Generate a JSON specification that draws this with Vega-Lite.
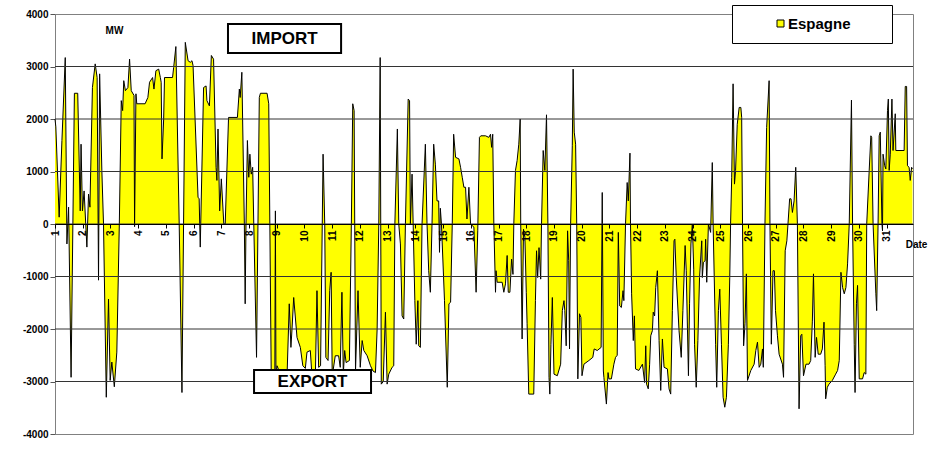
{
"$schema": "https://vega.github.io/schema/vega-lite/v6.json",
"width": 858, "height": 420,
"autosize": {"type": "none"},
"padding": {"left": 55, "top": 14, "right": 25, "bottom": 17},
"background": "white",
"config": {"view": {"stroke": "#808080", "strokeWidth": 1}, "font": "Liberation Sans", "axis": {"labelOverlap": false}},
"datasets": {
"flow": [
{"day":1.00,"mw":2000},{"day":1.03,"mw":1850},{"day":1.15,"mw":130},{"day":1.25,"mw":1590},{"day":1.37,"mw":3170},{"day":1.43,"mw":-380},{"day":1.49,"mw":320},{"day":1.58,"mw":-2920},{"day":1.70,"mw":2490},{"day":1.82,"mw":2490},{"day":1.91,"mw":250},{"day":1.94,"mw":1520},{"day":1.99,"mw":250},{"day":2.05,"mw":630},{"day":2.15,"mw":-440},{"day":2.21,"mw":570},{"day":2.26,"mw":320},{"day":2.35,"mw":2600},{"day":2.45,"mw":3050},{"day":2.52,"mw":2790},{"day":2.57,"mw":-1070},{"day":2.61,"mw":2860},{"day":2.69,"mw":1020},{"day":2.75,"mw":0},{"day":2.85,"mw":-3300},{"day":2.93,"mw":-1430},{"day":2.99,"mw":-2980},{"day":3.05,"mw":-2630},{"day":3.14,"mw":-3100},{"day":3.23,"mw":-2440},{"day":3.32,"mw":0},{"day":3.39,"mw":2350},{"day":3.44,"mw":2160},{"day":3.48,"mw":2730},{"day":3.54,"mw":2540},{"day":3.63,"mw":2600},{"day":3.69,"mw":3140},{"day":3.75,"mw":2540},{"day":3.85,"mw":2450},{"day":3.87,"mw":-50},{"day":3.92,"mw":2480},{"day":3.95,"mw":2290},{"day":4.25,"mw":2290},{"day":4.35,"mw":2410},{"day":4.41,"mw":2700},{"day":4.52,"mw":2790},{"day":4.57,"mw":2570},{"day":4.64,"mw":2920},{"day":4.74,"mw":2950},{"day":4.80,"mw":2790},{"day":4.83,"mw":2700},{"day":4.86,"mw":1240},{"day":4.92,"mw":2000},{"day":4.95,"mw":2790},{"day":5.24,"mw":2790},{"day":5.28,"mw":2980},{"day":5.36,"mw":3380},{"day":5.48,"mw":0},{"day":5.58,"mw":-3210},{"day":5.70,"mw":3460},{"day":5.80,"mw":3110},{"day":5.88,"mw":3080},{"day":5.94,"mw":3110},{"day":5.98,"mw":3020},{"day":6.16,"mw":510},{"day":6.20,"mw":480},{"day":6.24,"mw":-440},{"day":6.36,"mw":2600},{"day":6.45,"mw":2630},{"day":6.48,"mw":2350},{"day":6.57,"mw":2250},{"day":6.64,"mw":3210},{"day":6.72,"mw":3140},{"day":6.81,"mw":1080},{"day":6.84,"mw":830},{"day":6.88,"mw":1810},{"day":6.94,"mw":250},{"day":7.00,"mw":860},{"day":7.09,"mw":0},{"day":7.14,"mw":0},{"day":7.26,"mw":2030},{"day":7.58,"mw":2030},{"day":7.65,"mw":2570},{"day":7.68,"mw":2410},{"day":7.74,"mw":2890},{"day":7.83,"mw":0},{"day":7.86,"mw":-1520},{"day":7.89,"mw":0},{"day":7.94,"mw":1590},{"day":7.99,"mw":890},{"day":8.03,"mw":1330},{"day":8.08,"mw":950},{"day":8.13,"mw":1080},{"day":8.17,"mw":0},{"day":8.27,"mw":-2540},{"day":8.37,"mw":2410},{"day":8.41,"mw":2490},{"day":8.65,"mw":2490},{"day":8.71,"mw":2290},{"day":8.80,"mw":-2900},{"day":8.85,"mw":-3000},{"day":8.93,"mw":-2900},{"day":8.95,"mw":250},{"day":8.97,"mw":-2900},{"day":9.01,"mw":-2700},{"day":9.07,"mw":-2780},{"day":9.25,"mw":-2950},{"day":9.37,"mw":-2900},{"day":9.45,"mw":-1520},{"day":9.51,"mw":-2350},{"day":9.55,"mw":-2000},{"day":9.61,"mw":-1400},{"day":9.73,"mw":-2160},{"day":9.85,"mw":-2350},{"day":9.94,"mw":-2700},{"day":10.03,"mw":-2750},{"day":10.09,"mw":-2440},{"day":10.21,"mw":-2410},{"day":10.27,"mw":-2900},{"day":10.39,"mw":-2950},{"day":10.45,"mw":-1270},{"day":10.51,"mw":-2730},{"day":10.58,"mw":-2700},{"day":10.67,"mw":1330},{"day":10.73,"mw":0},{"day":10.77,"mw":-2540},{"day":10.85,"mw":-2600},{"day":10.91,"mw":-1270},{"day":10.96,"mw":-920},{"day":11.00,"mw":-2900},{"day":11.11,"mw":-2510},{"day":11.23,"mw":-2510},{"day":11.29,"mw":-2730},{"day":11.35,"mw":-1300},{"day":11.40,"mw":-2850},{"day":11.45,"mw":-2410},{"day":11.50,"mw":-2640},{"day":11.62,"mw":-2600},{"day":11.69,"mw":0},{"day":11.74,"mw":2290},{"day":11.79,"mw":2160},{"day":11.84,"mw":-2800},{"day":11.93,"mw":-1270},{"day":12.01,"mw":-2730},{"day":12.08,"mw":-2220},{"day":12.14,"mw":-2410},{"day":12.26,"mw":-2510},{"day":12.38,"mw":-2700},{"day":12.47,"mw":-2800},{"day":12.56,"mw":-2830},{"day":12.62,"mw":-2000},{"day":12.68,"mw":0},{"day":12.73,"mw":3170},{"day":12.77,"mw":-3050},{"day":12.84,"mw":-3000},{"day":12.92,"mw":-1680},{"day":12.98,"mw":-3050},{"day":13.04,"mw":-2860},{"day":13.16,"mw":-2730},{"day":13.22,"mw":-2700},{"day":13.26,"mw":0},{"day":13.35,"mw":1810},{"day":13.40,"mw":0},{"day":13.46,"mw":-380},{"day":13.52,"mw":-1750},{"day":13.58,"mw":-1810},{"day":13.64,"mw":0},{"day":13.74,"mw":2380},{"day":13.79,"mw":2350},{"day":13.82,"mw":0},{"day":13.88,"mw":950},{"day":13.92,"mw":0},{"day":13.98,"mw":-1460},{"day":14.03,"mw":-2290},{"day":14.09,"mw":-1460},{"day":14.12,"mw":-2320},{"day":14.18,"mw":-2350},{"day":14.24,"mw":0},{"day":14.36,"mw":1520},{"day":14.42,"mw":0},{"day":14.48,"mw":-890},{"day":14.54,"mw":-1300},{"day":14.60,"mw":0},{"day":14.66,"mw":1520},{"day":14.72,"mw":1140},{"day":14.78,"mw":440},{"day":14.84,"mw":440},{"day":14.87,"mw":-540},{"day":14.90,"mw":300},{"day":14.94,"mw":0},{"day":15.05,"mw":-1460},{"day":15.15,"mw":-3110},{"day":15.21,"mw":-1520},{"day":15.27,"mw":-1490},{"day":15.33,"mw":0},{"day":15.38,"mw":1710},{"day":15.45,"mw":1270},{"day":15.57,"mw":1240},{"day":15.63,"mw":1080},{"day":15.69,"mw":890},{"day":15.75,"mw":700},{"day":15.81,"mw":700},{"day":15.86,"mw":95},{"day":15.93,"mw":700},{"day":15.99,"mw":0},{"day":16.11,"mw":-60},{"day":16.19,"mw":-1300},{"day":16.25,"mw":-130},{"day":16.31,"mw":1650},{"day":16.36,"mw":1680},{"day":16.53,"mw":1680},{"day":16.65,"mw":1650},{"day":16.71,"mw":1710},{"day":16.75,"mw":1460},{"day":16.79,"mw":1710},{"day":16.83,"mw":0},{"day":16.89,"mw":-1300},{"day":16.91,"mw":-890},{"day":16.95,"mw":-1110},{"day":17.13,"mw":-1110},{"day":17.19,"mw":-1300},{"day":17.25,"mw":-1140},{"day":17.31,"mw":-600},{"day":17.35,"mw":-1300},{"day":17.41,"mw":-1300},{"day":17.47,"mw":-670},{"day":17.52,"mw":-960},{"day":17.55,"mw":0},{"day":17.61,"mw":1020},{"day":17.67,"mw":1210},{"day":17.73,"mw":1520},{"day":17.78,"mw":2000},{"day":17.80,"mw":0},{"day":17.85,"mw":-2190},{"day":17.90,"mw":-100},{"day":17.95,"mw":-250},{"day":18.00,"mw":-1300},{"day":18.03,"mw":-1900},{"day":18.09,"mw":-3240},{"day":18.27,"mw":-3240},{"day":18.33,"mw":-1460},{"day":18.37,"mw":-510},{"day":18.41,"mw":-1020},{"day":18.46,"mw":-450},{"day":18.52,"mw":-1050},{"day":18.55,"mw":0},{"day":18.61,"mw":1400},{"day":18.67,"mw":1020},{"day":18.73,"mw":2080},{"day":18.78,"mw":0},{"day":18.82,"mw":-2920},{"day":18.85,"mw":-3240},{"day":18.89,"mw":-2290},{"day":18.94,"mw":-1400},{"day":19.00,"mw":-2860},{"day":19.12,"mw":-2890},{"day":19.24,"mw":-2670},{"day":19.30,"mw":-1650},{"day":19.36,"mw":-1460},{"day":19.39,"mw":-1650},{"day":19.44,"mw":-2320},{"day":19.49,"mw":-130},{"day":19.53,"mw":-700},{"day":19.56,"mw":-2380},{"day":19.60,"mw":0},{"day":19.66,"mw":1490},{"day":19.69,"mw":2950},{"day":19.73,"mw":1750},{"day":19.78,"mw":1520},{"day":19.82,"mw":0},{"day":19.86,"mw":-2950},{"day":19.92,"mw":-1710},{"day":19.97,"mw":-1780},{"day":20.01,"mw":-2890},{"day":20.08,"mw":-2670},{"day":20.26,"mw":-2600},{"day":20.40,"mw":-2540},{"day":20.45,"mw":-2380},{"day":20.56,"mw":-2410},{"day":20.70,"mw":-2350},{"day":20.74,"mw":600},{"day":20.78,"mw":-2800},{"day":20.80,"mw":-2920},{"day":20.89,"mw":-3430},{"day":20.95,"mw":-2830},{"day":20.98,"mw":-2950},{"day":21.07,"mw":-2950},{"day":21.16,"mw":-2670},{"day":21.22,"mw":-2540},{"day":21.28,"mw":-2500},{"day":21.32,"mw":-160},{"day":21.37,"mw":-1560},{"day":21.43,"mw":-1590},{"day":21.49,"mw":-1270},{"day":21.52,"mw":-1460},{"day":21.58,"mw":0},{"day":21.64,"mw":790},{"day":21.68,"mw":440},{"day":21.74,"mw":1350},{"day":21.76,"mw":0},{"day":21.80,"mw":-1330},{"day":21.86,"mw":-2220},{"day":21.90,"mw":-1750},{"day":21.94,"mw":-2760},{"day":22.06,"mw":-2790},{"day":22.19,"mw":-2670},{"day":22.27,"mw":-3020},{"day":22.31,"mw":-2320},{"day":22.34,"mw":-3050},{"day":22.40,"mw":-3140},{"day":22.45,"mw":-2670},{"day":22.49,"mw":-2130},{"day":22.55,"mw":-2030},{"day":22.58,"mw":-1680},{"day":22.63,"mw":-1750},{"day":22.67,"mw":-1210},{"day":22.73,"mw":-890},{"day":22.79,"mw":-2220},{"day":22.85,"mw":-3170},{"day":22.91,"mw":-2190},{"day":22.97,"mw":-2730},{"day":23.09,"mw":-2760},{"day":23.15,"mw":-3140},{"day":23.21,"mw":-3240},{"day":23.27,"mw":-1650},{"day":23.33,"mw":-320},{"day":23.36,"mw":-290},{"day":23.41,"mw":-1020},{"day":23.51,"mw":-2030},{"day":23.59,"mw":-2540},{"day":23.65,"mw":-1650},{"day":23.73,"mw":-410},{"day":23.77,"mw":-890},{"day":23.85,"mw":-2890},{"day":23.89,"mw":-1520},{"day":23.94,"mw":-380},{"day":23.99,"mw":0},{"day":24.04,"mw":-860},{"day":24.07,"mw":-2290},{"day":24.13,"mw":-3110},{"day":24.19,"mw":-2220},{"day":24.25,"mw":-1020},{"day":24.33,"mw":-320},{"day":24.35,"mw":-1020},{"day":24.39,"mw":-730},{"day":24.45,"mw":-700},{"day":24.47,"mw":-290},{"day":24.51,"mw":-1110},{"day":24.57,"mw":0},{"day":24.65,"mw":-160},{"day":24.71,"mw":1170},{"day":24.74,"mw":0},{"day":24.83,"mw":-2290},{"day":24.87,"mw":-3110},{"day":24.93,"mw":-1650},{"day":24.98,"mw":-1240},{"day":25.04,"mw":-2290},{"day":25.10,"mw":-3300},{"day":25.16,"mw":-3490},{"day":25.22,"mw":-3300},{"day":25.29,"mw":-2290},{"day":25.34,"mw":-1020},{"day":25.37,"mw":0},{"day":25.41,"mw":890},{"day":25.46,"mw":2670},{"day":25.51,"mw":760},{"day":25.55,"mw":1020},{"day":25.61,"mw":1900},{"day":25.68,"mw":2220},{"day":25.74,"mw":2220},{"day":25.77,"mw":2030},{"day":25.80,"mw":0},{"day":25.84,"mw":-2320},{"day":25.89,"mw":-1900},{"day":25.94,"mw":-950},{"day":25.98,"mw":-2980},{"day":26.10,"mw":-2790},{"day":26.22,"mw":-2670},{"day":26.28,"mw":-2410},{"day":26.34,"mw":-2250},{"day":26.40,"mw":-2730},{"day":26.46,"mw":-2670},{"day":26.52,"mw":-2380},{"day":26.55,"mw":-2730},{"day":26.61,"mw":0},{"day":26.67,"mw":1840},{"day":26.76,"mw":2730},{"day":26.79,"mw":0},{"day":26.84,"mw":-2290},{"day":26.90,"mw":-890},{"day":26.95,"mw":-890},{"day":26.99,"mw":-1650},{"day":27.06,"mw":-2130},{"day":27.12,"mw":-2480},{"day":27.24,"mw":-2670},{"day":27.28,"mw":-2920},{"day":27.34,"mw":-510},{"day":27.40,"mw":-320},{"day":27.44,"mw":0},{"day":27.50,"mw":480},{"day":27.55,"mw":480},{"day":27.60,"mw":220},{"day":27.66,"mw":440},{"day":27.72,"mw":1080},{"day":27.78,"mw":0},{"day":27.84,"mw":-3520},{"day":27.90,"mw":-2130},{"day":27.94,"mw":-2100},{"day":28.00,"mw":-2890},{"day":28.09,"mw":-2670},{"day":28.20,"mw":-2670},{"day":28.26,"mw":-2600},{"day":28.32,"mw":-1850},{"day":28.36,"mw":-950},{"day":28.42,"mw":-2540},{"day":28.47,"mw":-2160},{"day":28.53,"mw":-2480},{"day":28.62,"mw":-2480},{"day":28.68,"mw":-2380},{"day":28.74,"mw":-1870},{"day":28.78,"mw":-2700},{"day":28.80,"mw":-3330},{"day":28.86,"mw":-3110},{"day":28.92,"mw":-3050},{"day":29.04,"mw":-2980},{"day":29.16,"mw":-2860},{"day":29.23,"mw":-2790},{"day":29.29,"mw":-2600},{"day":29.35,"mw":-920},{"day":29.41,"mw":-1210},{"day":29.47,"mw":-1330},{"day":29.53,"mw":-1210},{"day":29.59,"mw":-760},{"day":29.65,"mw":0},{"day":29.73,"mw":2360},{"day":29.77,"mw":0},{"day":29.83,"mw":-2290},{"day":29.86,"mw":-3210},{"day":29.91,"mw":-1520},{"day":29.95,"mw":-1170},{"day":30.01,"mw":-2950},{"day":30.13,"mw":-2950},{"day":30.19,"mw":-2830},{"day":30.25,"mw":-2860},{"day":30.28,"mw":0},{"day":30.37,"mw":1020},{"day":30.43,"mw":1680},{"day":30.46,"mw":1650},{"day":30.51,"mw":0},{"day":30.61,"mw":-1330},{"day":30.64,"mw":-1650},{"day":30.69,"mw":0},{"day":30.73,"mw":1680},{"day":30.77,"mw":1750},{"day":30.83,"mw":0},{"day":30.85,"mw":-130},{"day":30.87,"mw":1330},{"day":30.93,"mw":1110},{"day":30.97,"mw":1050},{"day":31.03,"mw":2160},{"day":31.06,"mw":2380},{"day":31.09,"mw":1020},{"day":31.13,"mw":1330},{"day":31.19,"mw":2380},{"day":31.23,"mw":1400},{"day":31.31,"mw":2100},{"day":31.33,"mw":1400},{"day":31.63,"mw":1400},{"day":31.67,"mw":2620},{"day":31.72,"mw":2620},{"day":31.75,"mw":1110},{"day":31.81,"mw":1080},{"day":31.85,"mw":830},{"day":31.90,"mw":1080},{"day":31.93,"mw":1050}
],
"grid": [{"mw":-3000},{"mw":-2000},{"mw":-1000},{"mw":0},{"mw":1000},{"mw":2000},{"mw":3000}],
"notes": [
{"label":"IMPORT","day":7.24,"day_end":11.32,"mw":3810,"mw_end":3257,"cx":9.28,"cy":3524},
{"label":"EXPORT","day":8.18,"day_end":12.40,"mw":-2781,"mw_end":-3219,"cx":10.29,"cy":-3010}
]
},
"layer": [
{
"data": {"name": "flow"},
"mark": {"type": "area", "opacity": 1, "interpolate": "linear"},
"encoding": {
"x": {"field": "day", "type": "quantitative",
"scale": {"domain": [1, 31.95], "nice": false, "zero": false},
"axis": {"values": [1,2,3,4,5,6,7,8,9,10,11,12,13,14,15,16,17,18,19,20,21,22,23,24,25,26,27,28,29,30,31], "tickCount": 40,
"labelExpr": "'' + datum.value", "labelAngle": -90, "labelFontWeight": "bold", "labelFontSize": 10, "labelColor": "black",
"labelPadding": 2, "tickSize": 4, "tickColor": "black", "domainColor": "black", "offset": -210, "grid": false, "zindex": 1,
"labelFlush": false, "labelOverlap": false, "labelBound": false,
"title": "Date", "titleX": 861, "titleY": 20, "titleFontSize": 10, "titleFontWeight": "bold", "titleColor": "black",
"titleAlign": "center", "titleBaseline": "middle"}},
"y": {"field": "mw", "type": "quantitative",
"scale": {"domain": [-4000, 4000], "nice": false},
"axis": {"values": [-4000,-3000,-2000,-1000,0,1000,2000,3000,4000], "tickCount": 20, "labelExpr": "'' + datum.value",
"labelFontWeight": "bold", "labelFontSize": 10, "labelColor": "black", "labelPadding": 2, "tickSize": 5, "tickColor": "#555",
"domainColor": "#808080", "grid": false, "labelFlush": false,
"title": "MW", "titleAngle": 0, "titleX": 59, "titleY": 16, "titleAlign": "center", "titleBaseline": "middle",
"titleFontSize": 10, "titleFontWeight": "bold", "titleColor": "black"}},
"color": {"datum": "Espagne", "type": "nominal", "scale": {"range": ["#FFFF00"]},
"legend": {"title": "xxxx", "titleOrient": "right", "titleColor": "white", "titleOpacity": 0, "titleFontSize": 10, "titlePadding": 7,
"orient": "none", "legendX": 677, "legendY": -9, "strokeColor": "black", "fillColor": "white",
"padding": 11, "symbolType": "square", "symbolSize": 49, "symbolStrokeColor": "black", "symbolStrokeWidth": 1, "symbolOpacity": 1,
"symbolOffset": 30, "labelFontSize": 15, "labelFontWeight": "bold", "labelColor": "black", "labelOffset": 0}}
}
},
{
"data": {"name": "flow"},
"mark": {"type": "line", "color": "black", "strokeWidth": 1, "interpolate": "linear"},
"encoding": {
"x": {"field": "day", "type": "quantitative"},
"y": {"field": "mw", "type": "quantitative"}
}
},
{
"data": {"name": "grid"},
"mark": {"type": "rule", "color": "#333333", "strokeWidth": 1},
"encoding": {
"y": {"field": "mw", "type": "quantitative"}
}
},
{
"data": {"name": "notes"},
"mark": {"type": "rect", "fill": "white", "stroke": "black", "strokeWidth": 2},
"encoding": {
"x": {"field": "day", "type": "quantitative"}, "x2": {"field": "day_end"},
"y": {"field": "mw", "type": "quantitative"}, "y2": {"field": "mw_end"}
}
},
{
"data": {"name": "notes"},
"mark": {"type": "text", "fontWeight": "bold", "fontSize": 17, "color": "black", "align": "center", "baseline": "middle"},
"encoding": {
"x": {"field": "cx", "type": "quantitative"},
"y": {"field": "cy", "type": "quantitative"},
"text": {"field": "label"}
}
}
]
}
